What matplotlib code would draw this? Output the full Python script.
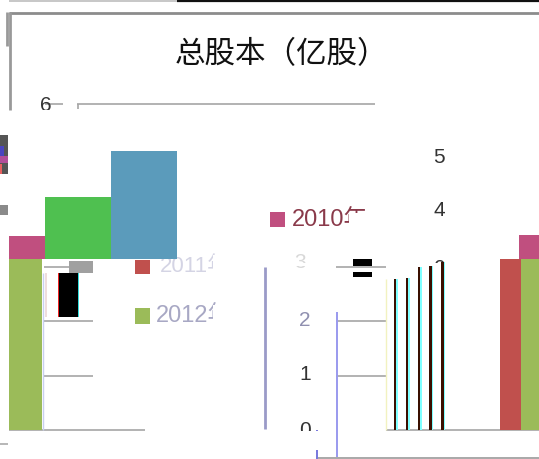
import matplotlib
matplotlib.use("Agg")
import matplotlib.pyplot as plt
from matplotlib.patches import Rectangle

plt.rcParams['font.family'] = ['Liberation Sans', 'Noto Sans CJK SC', 'DejaVu Sans']

title = "总股本（亿股）"
years = ["2010年", "2011年", "2012年"]
left_2012 = 3.14
left_2010_top = 3.57
mid_green_top = 4.29
mid_blue_top = 5.14
right_2011 = 3.14
right_2012 = 3.14
right_2010_top = 3.59
stripe_values = [2.78, 2.80, 3.00, 3.02, 3.09]
ytick_values = [0, 1, 2, 3, 4, 5, 6]

W, H = 539, 459
Y0 = 430.0
UNIT = 54.33
def py(p):
    return (Y0 - p) / UNIT

fig = plt.figure(figsize=(W / 100, H / 100), dpi=100, facecolor='white')
ax = fig.add_axes([0, 0, 1, 1])
ax.set_xlim(0, W)
ax.set_ylim(py(H), py(0))
ax.axis('off')

MAG, OLIVE, RED = '#C04F7F', '#9BBB59', '#C0504D'
GRID = '#A6A6A6'

def rect(x0, x1, p0, p1, c, z=3):
    ax.add_patch(Rectangle((x0, py(p1)), x1 - x0, py(p0) - py(p1), fc=c, ec='none', zorder=z))

# page chrome
ax.hlines(py(1), 9, 177, color='#BDBDBD', lw=1.2, zorder=1)
ax.hlines(py(0.7), 177, 539, color='#111111', lw=1.6, zorder=1)
ax.hlines(py(12.5), 9, 539, color='#8C8C8C', lw=2, zorder=1)
ax.vlines(9.5, py(12), py(110), color='#999999', lw=2, zorder=1)
ax.vlines(6.5, py(12), py(46), color='#999999', lw=2, zorder=1)
rect(0, 8, 135, 174, '#555555')
rect(0, 4, 146, 156, '#4B45C0', 4)
rect(0, 8, 156, 163, '#B24F9A', 4)
rect(0, 1.5, 164, 174, '#E86060', 4)
rect(0, 8, 205, 215, '#8A8A8A')
ax.hlines(py(444), 0, 8, color='#AAAAAA', lw=1.2, zorder=1)

# title
ax.text(281, py(55), title, fontsize=22, ha='center', va='center', color='#111111',
        family=['Noto Sans CJK SC', 'DejaVu Sans'], zorder=1)

# gridlines
ax.hlines(ytick_values[6], 77, 375, color=GRID, lw=1.2, zorder=1)
ax.vlines(77.5, py(104), py(109), color=GRID, lw=1.2, zorder=1)
ax.hlines(ytick_values[6], 45, 63, color=GRID, lw=1.2, zorder=1)
for v, a, b in [(3, 44, 93), (2, 43, 93), (1, 43, 93),
                (3, 336, 386), (2, 336, 386), (1, 336, 386),
                (0, 9, 145), (0, 386, 539)]:
    ax.hlines(v, a, b, color=GRID, lw=1.2, zorder=2)
ax.hlines(py(458), 316, 539, color='#999999', lw=1.2, zorder=2)
ax.vlines(336.5, py(312), py(457), color='#9999EE', lw=1.4, zorder=2)
ax.vlines(316.5, py(430), py(459), color='#7777DD', lw=1.4, zorder=2)
ax.vlines(386, py(279), py(430), color='#F2F2C0', lw=1, zorder=2)
ax.vlines(264.5, py(267), py(429), color='#9A9AC8', lw=2, zorder=2)
ax.vlines(43, py(273), py(430), color='#C8D0F0', lw=1, zorder=2)

# tick labels
TICK = dict(fontsize=15, ha='center', va='center', color='#333333', zorder=1)
ax.text(46, py(105), str(ytick_values[6]), **TICK)
ax.text(439, py(157), str(ytick_values[5]), **TICK)
ax.text(439, py(210), str(ytick_values[4]), **TICK)
ax.text(305, py(320), str(ytick_values[2]), fontsize=15, ha='center', va='center', color='#9090B0', zorder=1)
ax.text(305, py(375), str(ytick_values[1]), **TICK)
ax.text(305, py(431), str(ytick_values[0]), **TICK)
ax.text(439, py(268), str(ytick_values[0]), **TICK)
rect(425, 455, 263, 275, 'white', 2)
rect(290, 320, 431, 450, 'white', 2)

# mask
rect(12, 265, 109.5, 150, 'white', 2)
rect(0, 9, 110, 135, 'white', 2)

# legend
rect(270, 285, 212, 227, MAG)
rect(135, 150, 260, 274, RED)
rect(135, 150, 308, 324, OLIVE)
ax.text(292, py(220), years[0], fontsize=17, ha='left', va='center', color='#8A3A4A', zorder=1)
rect(349, 385, 213, 235, 'white', 2)
ax.text(160, py(267), years[1], fontsize=16, ha='left', va='center', color='#D4D4E4', zorder=1)
rect(160, 240, 277, 285, 'white', 2)
rect(213, 240, 255, 285, 'white', 2)
ax.text(156, py(316), years[2], fontsize=17, ha='left', va='center', color='#A8A8C4', zorder=1)
rect(213, 245, 305, 326, 'white', 2)
ax.text(300, py(263), str(ytick_values[3]), fontsize=15, ha='center', va='center', color='#D8D8D8', zorder=1)
rect(290, 315, 263, 266, 'white', 2)

# bars
ax.bar(25.5, left_2012, width=33, color=OLIVE, zorder=3)
ax.bar(27, left_2010_top - left_2012, width=36, bottom=left_2012, color=MAG, zorder=3)
ax.bar(78, mid_green_top - left_2012, width=66, bottom=left_2012, color='#4FC050', zorder=3)
ax.bar(144, mid_blue_top - left_2012, width=66, bottom=left_2012, color='#5B9BBB', zorder=3)
ax.bar(510.5, right_2011, width=21, color=RED, zorder=3)
ax.bar(530, right_2012, width=18, color=OLIVE, zorder=3)
ax.bar(529, right_2010_top - right_2012, width=20, bottom=right_2012, color=MAG, zorder=3)

# thin stripes
for x, v in zip([395, 407, 419, 430.5, 442.5], stripe_values):
    ax.bar(x + 1.8, v, width=1.4, color='#7FFFFF', zorder=3)
    ax.bar(x, v, width=2.4, color='#3A0F00', zorder=4)

# blocks
rect(59, 78, 273, 317, 'black')
rect(57.7, 59, 273, 317, '#EE2222', 4)
rect(78, 79, 273, 317, '#33DDDD', 4)
rect(69, 93, 261, 273, '#A0A0A0')
rect(353, 372, 259, 266, 'black')
rect(353, 372, 272, 277, 'black')
rect(45, 47, 273, 317, '#EEDDDD')

fig.savefig('out.png', dpi=100, facecolor='white')
